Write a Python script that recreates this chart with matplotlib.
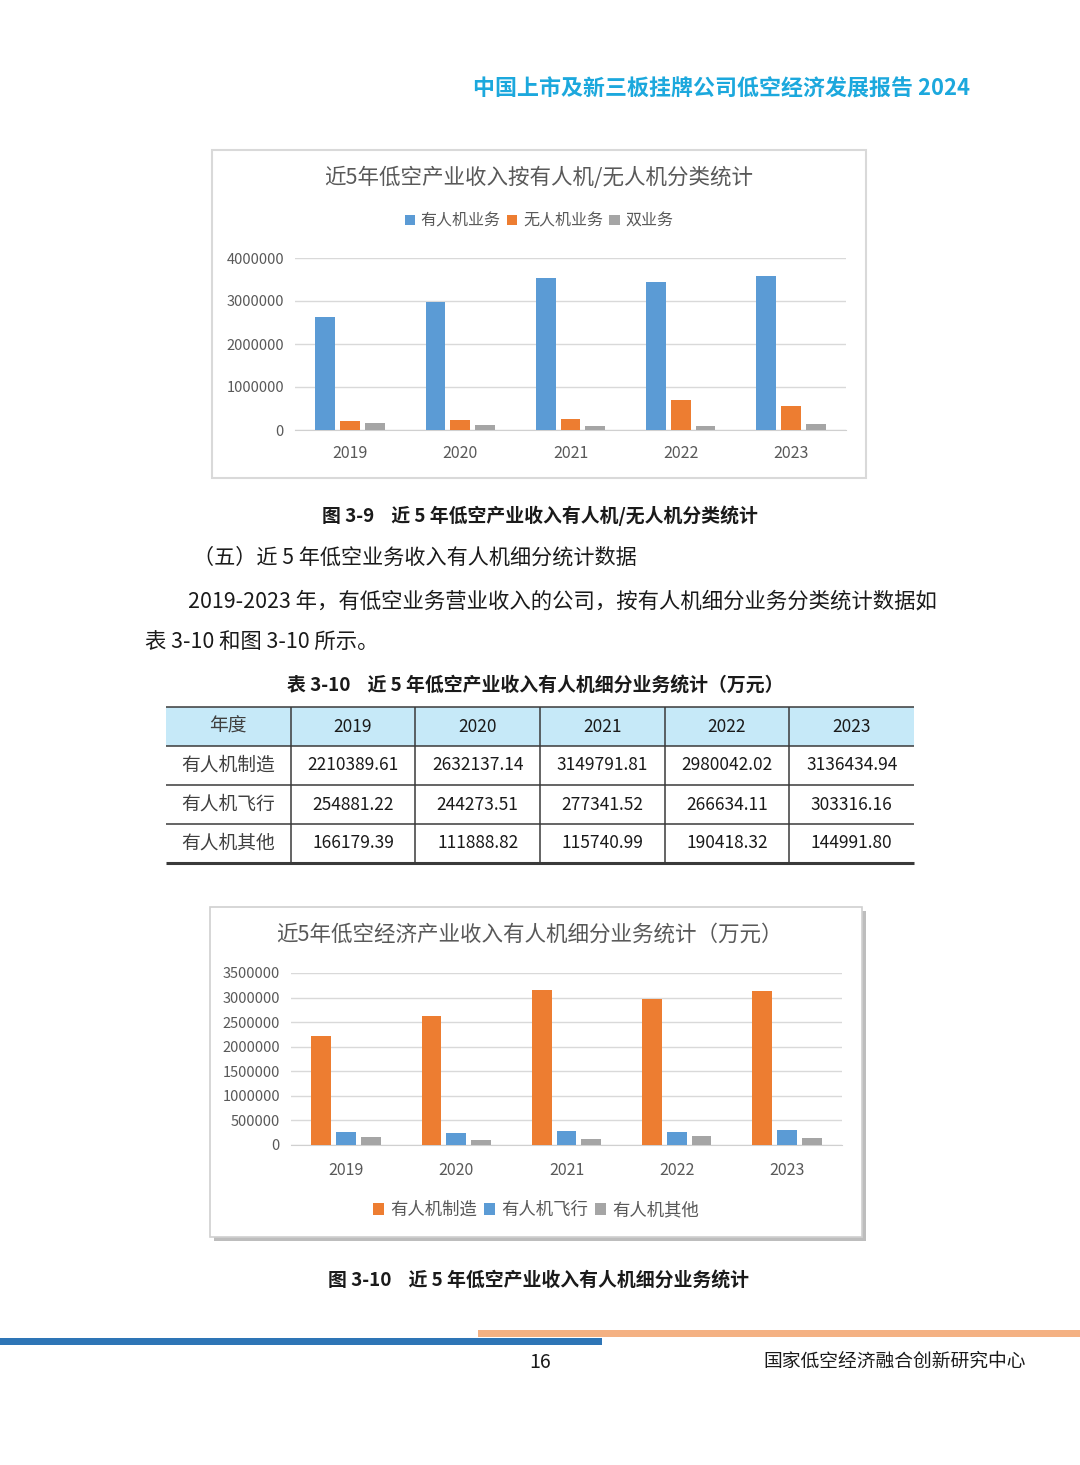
import numpy as np
import matplotlib.pyplot as plt
from matplotlib.patches import Rectangle

plt.rcParams['font.family'] = ['Noto Sans CJK SC', 'DejaVu Sans']

# ---------------- data ----------------
years = ['2019', '2020', '2021', '2022', '2023']

# 图 3-9 有人机/无人机分类
manned_total = [2631450, 2988299, 3542874, 3437094, 3584743]
drone_total = [210000, 230000, 255000, 690000, 566000]
dual_total = [155000, 110000, 93000, 100000, 140000]
fig1_names = ['有人机业务', '无人机业务', '双业务']

# 表 3-10 / 图 3-10 有人机细分业务 (万元)
manufacture = [2210389.61, 2632137.14, 3149791.81, 2980042.02, 3136434.94]
flight = [254881.22, 244273.51, 277341.52, 266634.11, 303316.16]
other = [166179.39, 111888.82, 115740.99, 190418.32, 144991.80]
fig2_names = ['有人机制造', '有人机飞行', '有人机其他']

BLUE, ORANGE, GRAY = '#5B9BD5', '#ED7D31', '#A5A5A5'
TXT = '#595959'

W, H = 1080, 1465
fig = plt.figure(figsize=(W / 100, H / 100), dpi=100)
fig.patch.set_facecolor('white')


def box(x0, y0, x1, y1):
    # pixel box (top-left origin) -> figure fraction rect
    return [x0 / W, 1 - y1 / H, (x1 - x0) / W, (y1 - y0) / H]


# page layer in pixel coordinates
bg = fig.add_axes([0, 0, 1, 1])
bg.set_xlim(0, W)
bg.set_ylim(H, 0)
bg.axis('off')

bg.text(970, 89, '中国上市及新三板挂牌公司低空经济发展报告 2024', ha='right', va='center',
        fontsize=15.8, fontweight='bold', color='#1CA8DD')

# chart frames
bg.add_patch(Rectangle((212, 150), 654, 328, facecolor='white', edgecolor='#d9d9d9', lw=1.5))
bg.add_patch(Rectangle((214, 911), 652, 330, facecolor='#bdbdbd', edgecolor='none'))
bg.add_patch(Rectangle((210, 907), 652, 330, facecolor='white', edgecolor='#d0d0d0', lw=1.2))


def bar_chart(rect, series, names, colors, ymax, step, title, title_xy, legend_xy, legend_size, xpad):
    ax = fig.add_axes(box(*rect))
    ax.set_facecolor('none')
    x = np.arange(len(years))
    handles = []
    for i, (vals, name, c) in enumerate(zip(series, names, colors)):
        handles.append(ax.bar(x + (i - 1) * 0.225, vals, 0.18, color=c, label=name, zorder=3))
    ax.set_xlim(-0.5, len(years) - 0.5)
    ax.set_ylim(0, ymax)
    ticks = np.arange(0, ymax + 1, step)
    ax.set_yticks(ticks)
    ax.set_yticklabels([f'{v:.0f}' for v in ticks])
    ax.set_xticks(x)
    ax.set_xticklabels(years)
    ax.tick_params(axis='y', length=0, pad=8, labelsize=10.5, labelcolor=TXT)
    ax.tick_params(axis='x', length=0, pad=xpad, labelsize=11.5, labelcolor=TXT)
    ax.grid(axis='y', color='#d9d9d9', lw=1)
    ax.set_axisbelow(True)
    for s in ['left', 'right', 'top']:
        ax.spines[s].set_visible(False)
    ax.spines['bottom'].set_color('#d0d0d0')
    bg.text(title_xy[0], title_xy[1], title, ha='center', va='center', fontsize=15.5, color=TXT)
    fig.legend(handles=handles, loc='center',
               bbox_to_anchor=(legend_xy[0] / W, 1 - legend_xy[1] / H),
               ncol=3, frameon=False, fontsize=legend_size, labelcolor=TXT,
               handlelength=0.65, handleheight=0.65, handletextpad=0.35, columnspacing=0.4)
    return ax


bar_chart((295, 258, 846, 430), [manned_total, drone_total, dual_total], fig1_names,
          [BLUE, ORANGE, GRAY], 4000000, 1000000,
          '近5年低空产业收入按有人机/无人机分类统计', (539, 178), (539, 221), 11.5, 11)

# captions and body text
bg.text(540, 516, '图 3-9    近 5 年低空产业收入有人机/无人机分类统计', ha='center', va='center',
        fontsize=13.6, fontweight='bold', color='#1a1a1a')
bg.text(193, 558, '（五）近 5 年低空业务收入有人机细分统计数据', ha='left', va='center',
        fontsize=15.2, color='#1a1a1a')
bg.text(188, 601, '2019-2023 年，有低空业务营业收入的公司，按有人机细分业务分类统计数据如',
        ha='left', va='center', fontsize=15.4, color='#1a1a1a')
bg.text(145, 643, '表 3-10 和图 3-10 所示。', ha='left', va='center', fontsize=15.4, color='#1a1a1a')
bg.text(535, 686, '表 3-10    近 5 年低空产业收入有人机细分业务统计（万元）', ha='center', va='center',
        fontsize=13.6, fontweight='bold', color='#1a1a1a')

# table 3-10
tab_ax = fig.add_axes(box(166, 707, 914, 863))
tab_ax.set_xlim(0, 1)
tab_ax.set_ylim(0, 1)
tab_ax.axis('off')
cell_text = [['年度'] + years]
for name, vals in zip(fig2_names, [manufacture, flight, other]):
    cell_text.append([name] + [f'{v:.2f}' for v in vals])
tbl = tab_ax.table(cellText=cell_text, cellLoc='center', bbox=[0, 0, 1, 1])
tbl.auto_set_font_size(False)
ncols = len(years) + 1
nrows = len(cell_text)
for (r, c), cell in tbl.get_celld().items():
    cell.set_linewidth(0)
    cell.set_facecolor('#C6E9F8' if r == 0 else 'white')
    txt = cell.get_text()
    if c == 0:
        txt.set_fontsize(13.5)
        txt.set_color('#404040')
    else:
        txt.set_fontsize(12.5)
        txt.set_color('#1a1a1a')
tab_ax.vlines(np.arange(1, ncols) / ncols, 0, 1, color='#3a3a3a', lw=1.1, clip_on=False)
tab_ax.hlines(np.arange(1, nrows + 1) / nrows, 0, 1, color='#3a3a3a', lw=1.1, clip_on=False)
tab_ax.hlines([0], 0, 1, color='#3a3a3a', lw=2.2, clip_on=False)

# 图 3-10
bar_chart((291, 973, 842, 1145), [manufacture, flight, other], fig2_names,
          [ORANGE, BLUE, GRAY], 3500000, 500000,
          '近5年低空经济产业收入有人机细分业务统计（万元）', (529, 935), (536, 1210), 12.5, 12)

bg.text(539, 1281, '图 3-10    近 5 年低空产业收入有人机细分业务统计', ha='center', va='center',
        fontsize=13.6, fontweight='bold', color='#1a1a1a')

# footer
bg.add_patch(Rectangle((478, 1330), 602, 7, facecolor='#F4B183', edgecolor='none'))
bg.add_patch(Rectangle((0, 1338), 602, 7, facecolor='#2E75B6', edgecolor='none'))
bg.text(540, 1362, '16', ha='center', va='center', fontsize=14, color='#1a1a1a')
bg.text(1026, 1361, '国家低空经济融合创新研究中心', ha='right', va='center', fontsize=13.5,
        color='#1a1a1a')

fig.savefig('out.png', dpi=100)
